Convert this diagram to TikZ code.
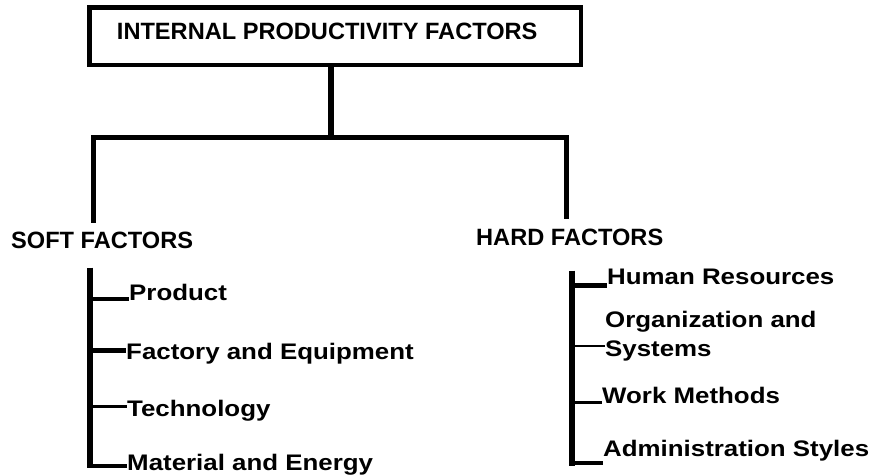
\documentclass[tikz,border=0pt]{standalone}
\usepackage{fontspec}
\setmainfont{Liberation Sans}
\newfontfamily\itemfont{Liberation Sans}[FakeStretch=1.15]
\begin{document}
\begin{tikzpicture}[x=1pt,y=-1pt,
  topbox/.style={draw, line width=4.5pt, minimum width=491.3pt, minimum height=57.5pt, inner sep=0pt,
    font=\fontsize{23.6}{28}\selectfont\bfseries},
  hdr/.style={font=\fontsize{23.6}{28}\selectfont\bfseries, inner xsep=0pt, inner ysep=9pt, anchor=base west},
  itm/.style={font=\itemfont\fontsize{22.5}{29}\selectfont\bfseries, inner sep=0pt, anchor=base west, align=left},
  mainline/.style={line width=5.5pt, line join=miter},
  stemline/.style={line width=6pt},
  treeline/.style={line width=6.5pt},
]
\fill[white] (0,0) rectangle (876,476);
\useasboundingbox (0,0) rectangle (876,476);

% top box
\node[topbox] (top) at (335.2,36.25) {INTERNAL PRODUCTIVITY FACTORS\rule[-9.5pt]{0pt}{0pt}\hspace*{16pt}};

% headers
\node[hdr] (soft) at (11,248.5) {SOFT FACTORS};
\node[hdr] (hard) at (476,245) {HARD FACTORS};

% connectors from top
\coordinate (j) at (331,137.5);
\coordinate (lc) at (93.5,137.5);
\coordinate (rc) at (566.5,137.5);
\draw[stemline] (j |- top.south) -- (j);
\draw[mainline] (lc |- soft.north) -- (lc) -- (rc) -- (rc |- hard.north);

% soft factor items
\node[itm] (prod) at (129,300) {Product};
\node[itm] (fact) at (126,359) {Factory and Equipment};
\node[itm] (tech) at (127,416.7) {Technology};
\node[itm] (matl) at (127,470.5) {Material and Energy};

\coordinate (lt) at (90,267.5);
\coordinate (lb) at (90,468);
\draw[treeline] (lt) -- (lb);
\coordinate (pb) at ([yshift=1pt]prod.base west);
\coordinate (fb) at ([yshift=8.5pt]fact.base west);
\coordinate (tb) at ([yshift=10.2pt]tech.base west);
\coordinate (mb) at ([yshift=4.5pt]matl.base west);
\draw[line width=4pt] (pb -| lt) -- (pb);
\draw[line width=5pt] (fb -| lt) -- (fb);
\draw[line width=2.5pt] (tb -| lt) -- (tb);
\draw[line width=4pt] (mb -| lt) -- (mb);

% hard factor items
\node[itm] (hum) at (607,284.5) {Human Resources};
\node[itm, anchor=north west] (org) at (605,310.6) {Organization and\\Systems};
\node[itm] (work) at (602,403) {Work Methods};
\node[itm] (adm) at (603,456) {Administration Styles};

\coordinate (rt) at (572,270.5);
\coordinate (rb) at (572,465.5);
\draw[treeline] (rt) -- (rb);
\coordinate (hb) at ([yshift=-1pt]hum.base west);
\coordinate (ob) at ([yshift=-34.9pt]org.north west);
\coordinate (wb) at ([yshift=0.5pt]work.base west);
\coordinate (ab) at ([yshift=-7pt]adm.base west);
\draw[line width=5pt] (hb -| rt) -- (hb);
\draw[line width=2pt] (ob -| rt) -- (ob);
\draw[line width=3.5pt] (wb -| rt) -- (wb);
\draw[line width=4.5pt] (ab -| rt) -- (ab);
\end{tikzpicture}
\end{document}
